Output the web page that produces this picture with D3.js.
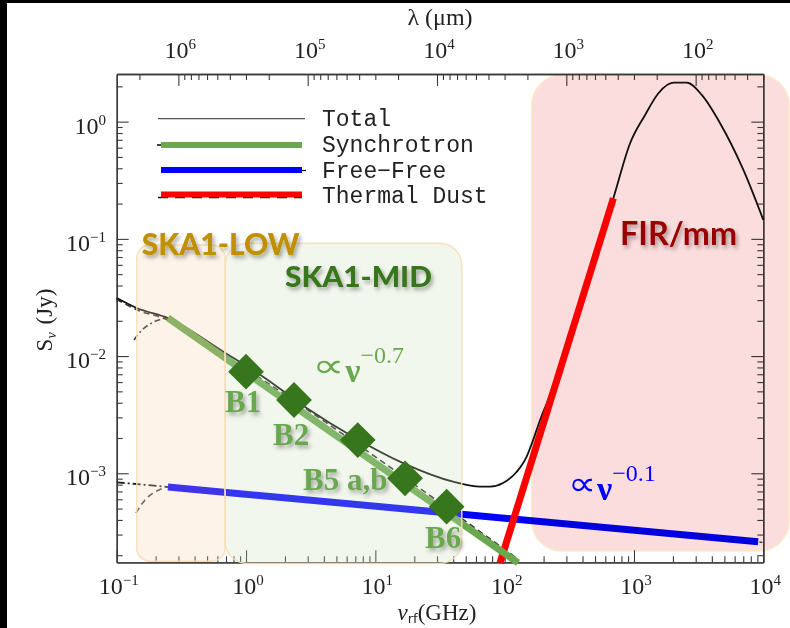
<!DOCTYPE html>
<html><head><meta charset="utf-8">
<script src="https://cdn.jsdelivr.net/npm/d3@7"></script>
<style>
html,body{margin:0;padding:0;background:#000;}
svg{display:block;}
</style></head><body>
<script>
// ---------------- DATA ----------------
const C_UM_GHZ = 299792.458; // lambda(um) = C / nu(GHz)
const xTicksMajor = [0.1, 1, 10, 100, 1000, 10000];
const yTicksMajor = [1e-3, 1e-2, 1e-1, 1];
const lamTicksMajor = [1e6, 1e5, 1e4, 1e3, 1e2];

// Total SED (GHz, Jy)
const totalNu = [0.1, 0.143, 0.249, 0.667, 1.354, 2.94, 6.71, 16.4, 39.9, 64.6, 77.1, 97.2, 124, 148, 166, 188, 212, 383, 693, 933, 1219, 1545, 2018, 2561, 3344, 4634, 7015, 10000];
const totalS  = [0.0313, 0.0257, 0.0211, 0.0109, 6.67e-3, 3.61e-3, 2.05e-3, 1.22e-3, 8.48e-4, 7.69e-4, 7.69e-4, 8.26e-4, 1.03e-3, 1.39e-3, 1.92e-3, 2.85e-3, 3.98e-3, 0.0285, 0.222, 0.654, 1.14, 1.747, 2.15, 2.15, 1.69, 0.969, 0.387, 0.145];

// Power-law components
const syncNu = [0.249, 127];   const syncS = [0.02113, 1.72e-4];
const ffNu   = [0.249, 9120];  const ffS   = [7.64e-4, 2.61e-4];
const dustNu = [92.1, 693];    const dustS = [1.72e-4, 0.222];

// thin black component curves
const syncDashNu = [0.1, 0.143, 0.249, 0.4426, 127];
const syncDashS  = [0.0305, 0.0248, 0.0203, 0.01374, 1.85e-4];
const syncAbsNu  = [0.136, 0.157, 0.1876, 0.2363];
const syncAbsS   = [0.01373, 0.0167, 0.0192, 0.0211];
const ffExtNu    = [0.1, 0.249];
const ffExtS     = [8.38e-4, 7.64e-4];
const ffAbsNu    = [0.141, 0.1656, 0.1978, 0.2455];
const ffAbsS     = [4.58e-4, 5.92e-4, 6.92e-4, 7.64e-4];
const ffDashNu   = [0.249, 10000];
const ffDashS    = [7.64e-4, 2.57e-4];

// SKA bands (diamonds)
const bandNu = [1.00, 2.35, 7.31, 16.97, 35.6];
const bandS  = [7.36e-3, 4.22e-3, 1.92e-3, 9.06e-4, 5.19e-4];
const bandLabels   = ["B1", "B2", "B5 a,b", "B6"];
const bandLabelNu  = [0.688, 1.618, 2.76, 24.2];
const bandLabelS   = [3.35e-3, 1.74e-3, 7.21e-4, 2.31e-4];

// shaded regions [nuMin, nuMax, sMin, sMax]
const lowBox = [0.143, 0.689, 1.78e-4, 0.0885];
const midBox = [0.689, 46.6, 1.70e-4, 0.0917];
const firBox = [162, 15850, 2.17e-4, 2.5];

const legendNames = ["Total", "Synchrotron", "Free\u2212Free", "Thermal Dust"];

// ---------------- CHART ----------------
const W = 790, H = 628;
const L = 116.7, R = 763.3, T = 74, B = 562.3;
const x = d3.scaleLog().domain([0.1, 1e4]).range([L, R]);
const y = d3.scaleLog().domain([1.74e-4, 2.55]).range([B, T]);
const lam = d3.scaleLog().domain([C_UM_GHZ / 0.1, C_UM_GHZ / 1e4]).range([L, R]);
const isMajor = v => Math.abs(Math.log10(v) - Math.round(Math.log10(v))) < 1e-6;
const zip = (a, b) => a.map((v, i) => [v, b[i]]);

const svg = d3.select("body").append("svg").attr("width", W).attr("height", H);
const defs = svg.append("defs");
const f = defs.append("filter").attr("id", "sh").attr("x", "-20%").attr("y", "-30%").attr("width", "150%").attr("height", "180%");
f.append("feDropShadow").attr("dx", 2).attr("dy", 3).attr("stdDeviation", 2.2).attr("flood-color", "#000").attr("flood-opacity", 0.35);

svg.append("rect").attr("x", 7).attr("y", 3).attr("width", W - 7).attr("height", H - 3).attr("fill", "#fff");

const axisColor = "#3a3a3a";
function styleAxis(g) {
  g.selectAll("path.domain").attr("stroke", axisColor).attr("stroke-width", 1.3);
  g.selectAll(".tick line").attr("stroke", axisColor).attr("stroke-width", 1.1);
  g.selectAll("text").remove();
}
const axes = svg.append("g");
// bottom
let g = axes.append("g").attr("transform", `translate(0,${B})`);
g.call(d3.axisBottom(x).tickValues(x.ticks().filter(v => !isMajor(v))).tickSizeInner(-6).tickSizeOuter(0).tickFormat(""));
g.append("g").call(d3.axisBottom(x).tickValues(xTicksMajor).tickSizeInner(-12).tickSizeOuter(0).tickFormat(""));
styleAxis(g);
// top (wavelength)
g = axes.append("g").attr("transform", `translate(0,${T})`);
g.call(d3.axisTop(lam).tickValues(lam.ticks().filter(v => !isMajor(v))).tickSizeInner(-6).tickSizeOuter(0).tickFormat(""));
g.append("g").call(d3.axisTop(lam).tickValues(lamTicksMajor).tickSizeInner(-12).tickSizeOuter(0).tickFormat(""));
styleAxis(g);
// left
g = axes.append("g").attr("transform", `translate(${L},0)`);
g.call(d3.axisLeft(y).tickValues(y.ticks().filter(v => !isMajor(v))).tickSizeInner(-6).tickSizeOuter(0).tickFormat(""));
g.append("g").call(d3.axisLeft(y).tickValues(yTicksMajor).tickSizeInner(-12).tickSizeOuter(0).tickFormat(""));
styleAxis(g);
// right
g = axes.append("g").attr("transform", `translate(${R},0)`);
g.call(d3.axisRight(y).tickValues(y.ticks().filter(v => !isMajor(v))).tickSizeInner(-6).tickSizeOuter(0).tickFormat(""));
g.append("g").call(d3.axisRight(y).tickValues(yTicksMajor).tickSizeInner(-12).tickSizeOuter(0).tickFormat(""));
styleAxis(g);

// tick labels
const tickFont = "'Liberation Serif', 'Times New Roman', serif";
function powLabel(sel, v, px, py, anchor) {
  const e = Math.round(Math.log10(v));
  const t = sel.append("text").attr("x", px).attr("y", py).attr("text-anchor", anchor)
    .attr("font-family", tickFont).attr("font-size", 24).attr("fill", "#222");
  t.append("tspan").text("10");
  t.append("tspan").attr("font-size", 15).attr("dy", -9).text(e < 0 ? "\u2212" + (-e) : String(e));
}
const labs = svg.append("g");
xTicksMajor.forEach(v => powLabel(labs, v, x(v) + 2, 594, "middle"));
lamTicksMajor.forEach(v => powLabel(labs, v, lam(v) + 2, 58, "middle"));
yTicksMajor.forEach(v => powLabel(labs, v, 106, y(v) + 12, "end"));

// axis titles
svg.append("text").attr("x", 440).attr("y", 25).attr("text-anchor", "middle")
  .attr("font-family", tickFont).attr("font-size", 24).attr("fill", "#222").text("\u03bb (\u03bcm)");
const xt = svg.append("text").attr("x", 437).attr("y", 620).attr("text-anchor", "middle")
  .attr("font-family", tickFont).attr("font-size", 23).attr("fill", "#222");
xt.append("tspan").attr("font-style", "italic").text("\u03bd");
xt.append("tspan").attr("font-family", "'DejaVu Sans', sans-serif").attr("font-size", 13).attr("dy", 3).text("rf");
xt.append("tspan").attr("dy", -3).text("(GHz)");
const yt = svg.append("text").attr("transform", `translate(52,320) rotate(-90)`).attr("text-anchor", "middle")
  .attr("font-family", tickFont).attr("font-size", 23).attr("fill", "#222");
yt.append("tspan").text("S");
yt.append("tspan").attr("font-size", 14).attr("font-style", "italic").attr("dy", 4).text("\u03bd");
yt.append("tspan").attr("dy", -4).attr("dx", 8).text("(Jy)");

// ---------- curves ----------
const line = d3.line().x(d => x(d[0])).y(d => y(d[1]));
const smooth = d3.line().x(d => x(d[0])).y(d => y(d[1])).curve(d3.curveMonotoneX);
const curves = svg.append("g").attr("fill", "none");
curves.append("path").attr("d", smooth(zip(syncDashNu, syncDashS))).attr("stroke", "#333").attr("stroke-width", 1.6).attr("stroke-dasharray", "6,4");
curves.append("path").attr("d", smooth(zip(syncAbsNu, syncAbsS))).attr("stroke", "#333").attr("stroke-width", 1.6).attr("stroke-dasharray", "6,3,2,3");
curves.append("path").attr("d", line(zip(ffExtNu, ffExtS))).attr("stroke", "#222").attr("stroke-width", 1.8).attr("stroke-dasharray", "8,3,2,3");
curves.append("path").attr("d", smooth(zip(ffAbsNu, ffAbsS))).attr("stroke", "#444").attr("stroke-width", 1.6).attr("stroke-dasharray", "6,4");
curves.append("path").attr("d", line(zip(ffDashNu, ffDashS))).attr("stroke", "#222").attr("stroke-width", 1.4).attr("stroke-dasharray", "3,3");
curves.append("path").attr("d", line(zip(dustNu, dustS))).attr("stroke", "#222").attr("stroke-width", 1.4).attr("stroke-dasharray", "8,6");
curves.append("path").attr("d", smooth(zip(totalNu, totalS))).attr("stroke", "#111").attr("stroke-width", 1.8);
curves.append("path").attr("d", line(zip(ffNu, ffS))).attr("stroke", "#0000ff").attr("stroke-width", 7);
curves.append("path").attr("d", line(zip(dustNu, dustS))).attr("stroke", "#ff0000").attr("stroke-width", 7);
curves.append("path").attr("d", line(zip(syncNu, syncS))).attr("stroke", "#6aa84f").attr("stroke-width", 7);

// ---------- shaded regions ----------
function box(b, fill, op, rx, stroke, blend) {
  const r = svg.append("rect")
    .attr("x", x(b[0])).attr("y", y(b[3]))
    .attr("width", x(b[1]) - x(b[0])).attr("height", y(b[2]) - y(b[3]))
    .attr("rx", rx).attr("ry", rx)
    .attr("fill", fill).attr("fill-opacity", op)
    .attr("stroke", stroke).attr("stroke-width", 1.5);
  if (blend) r.style("mix-blend-mode", blend);
  return r;
}
box(lowBox, "rgb(247,207,167)", 0.25, 13, "rgba(245,222,185,0.9)");
box(midBox, "rgb(203,223,187)", 0.25, 22, "rgba(245,222,185,0.9)");
box(firBox, "rgb(251,221,221)", 1, 30, "rgba(248,236,200,1)", "multiply");

// ---------- band diamonds ----------
const sq = d3.symbol().type(d3.symbolSquare).size(640);
svg.append("g").selectAll("path").data(zip(bandNu, bandS)).join("path")
  .attr("d", sq).attr("transform", d => `translate(${x(d[0])},${y(d[1])}) rotate(45)`)
  .attr("fill", "#38761d");

// ---------- annotations ----------
const serif = "'Liberation Serif', 'Times New Roman', serif";
svg.append("g").selectAll("text").data(bandLabels).join("text")
  .attr("x", (d, i) => x(bandLabelNu[i])).attr("y", (d, i) => y(bandLabelS[i]))
  .attr("font-family", serif).attr("font-weight", "bold").attr("font-size", 31)
  .attr("fill", "#6aa84f").attr("filter", "url(#sh)").text(d => d);

svg.append("text").attr("x", x(0.156)).attr("y", y(0.0729))
  .attr("font-family", "Lato, sans-serif").attr("font-weight", 900).attr("font-size", 30)
  .attr("textLength", 158).attr("lengthAdjust", "spacingAndGlyphs")
  .attr("fill", "#bf9000").attr("filter", "url(#sh)").text("SKA1-LOW");
svg.append("text").attr("x", x(2.0)).attr("y", y(0.0391))
  .attr("font-family", "Lato, sans-serif").attr("font-weight", 900).attr("font-size", 28)
  .attr("textLength", 147).attr("lengthAdjust", "spacingAndGlyphs")
  .attr("fill", "#38761d").attr("filter", "url(#sh)").text("SKA1-MID");
svg.append("text").attr("x", x(780)).attr("y", y(0.0887))
  .attr("font-family", "Lato, sans-serif").attr("font-weight", "bold").attr("font-size", 32)
  .attr("textLength", 117).attr("lengthAdjust", "spacingAndGlyphs")
  .attr("fill", "#990000").attr("filter", "url(#sh)").text("FIR/mm");

function propLabel(nu, s, exp, color, w) {
  const x0 = x(nu), y0 = y(s);
  svg.append("text").attr("x", x0).attr("y", y0)
    .attr("font-family", "'DejaVu Sans', sans-serif").attr("font-size", 34)
    .attr("textLength", w).attr("lengthAdjust", "spacingAndGlyphs")
    .attr("fill", color).text("\u221d");
  const t = svg.append("text").attr("x", x0 + w + 1).attr("y", y0 + 5)
    .attr("font-family", serif).attr("fill", color);
  t.append("tspan").attr("font-weight", "bold").attr("font-size", 34).text("\u03bd");
  t.append("tspan").attr("font-size", 24).attr("dy", -19).text(exp);
}
propLabel(3.25, 6.62e-3, "\u22120.7", "#6aa84f", 32);
propLabel(309, 6.53e-4, "\u22120.1", "#0000ff", 28);

// ---------- legend ----------
const leg = svg.append("g");
leg.append("line").attr("x1", 158).attr("x2", 305).attr("y1", 118.7).attr("y2", 118.7).attr("stroke", "#555").attr("stroke-width", 1.3);
leg.append("line").attr("x1", 157).attr("x2", 162).attr("y1", 145).attr("y2", 145).attr("stroke", "#000").attr("stroke-width", 1.5);
leg.append("line").attr("x1", 161).attr("x2", 302).attr("y1", 145).attr("y2", 145).attr("stroke", "#6aa84f").attr("stroke-width", 6);
leg.append("line").attr("x1", 300).attr("x2", 306).attr("y1", 170.5).attr("y2", 170.5).attr("stroke", "#000").attr("stroke-width", 1.2);
leg.append("line").attr("x1", 161).attr("x2", 302).attr("y1", 170).attr("y2", 170).attr("stroke", "#0000ff").attr("stroke-width", 6);
leg.append("line").attr("x1", 158).attr("x2", 302).attr("y1", 197.5).attr("y2", 197.5).attr("stroke", "#111").attr("stroke-width", 1.6).attr("stroke-dasharray", "10,7");
leg.append("line").attr("x1", 161).attr("x2", 302).attr("y1", 194.5).attr("y2", 194.5).attr("stroke", "#ff0000").attr("stroke-width", 6);
leg.selectAll("text.l").data(legendNames).join("text").attr("class", "l")
  .attr("x", 322).attr("y", (d, i) => 126 + i * 25.8)
  .attr("font-family", "'Liberation Mono', 'Courier New', monospace").attr("font-size", 23)
  .attr("fill", "#222").text(d => d);
</script>
</body></html>
